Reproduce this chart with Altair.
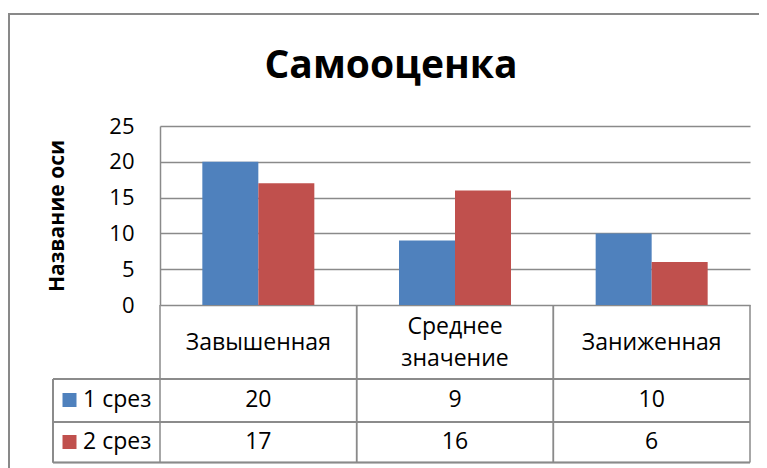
import altair as alt
import pandas as pd

title_text = "Самооценка"
y_title = "Название оси"
categories = ["Завышенная", "Среднее значение", "Заниженная"]
series = ["1 срез", "2 срез"]
values_1 = [20, 9, 10]
values_2 = [17, 16, 6]
y_ticks = [0, 5, 10, 15, 20, 25]
colors = ["#4F81BD", "#C0504D"]

rows = []
for s, vals in zip(series, [values_1, values_2]):
    for c, v in zip(categories, vals):
        rows.append({"category": c, "series": s, "value": v})
df = pd.DataFrame(rows)
cat_df = pd.DataFrame({"category": categories})
ser_df = pd.DataFrame({"series": series})
title_df = pd.DataFrame({"t": [title_text]})

FONT = "Open Sans"
GRID = "#8a8a8a"
W, H = 590, 179
TFS = 23  # table font size

# layout (pixels relative to plot area)
header_y = 217
header_y_two_lines = 201
row_y = [274, 316]
hlines = [253, 296, 336.5]
table_bottom = 336.5
legend_left = -107


def xcat(band_pos=None):
    kw = {}
    if band_pos is not None:
        kw["bandPosition"] = band_pos
    return alt.X("category:N", sort=categories,
                 scale=alt.Scale(paddingInner=0, paddingOuter=0), axis=None, **kw)


color_enc = alt.Color("series:N", sort=series,
                      scale=alt.Scale(domain=series, range=colors), legend=None)

base = alt.Chart(df)

bars = base.mark_bar().encode(
    x=xcat(),
    xOffset=alt.XOffset("series:N", sort=series,
                        scale=alt.Scale(paddingOuter=0.756, paddingInner=0)),
    y=alt.Y("value:Q", scale=alt.Scale(domain=[0, 25]),
            axis=alt.Axis(values=y_ticks, grid=True, gridColor=GRID, gridWidth=1.5,
                          domainColor=GRID, domainWidth=1.5, ticks=False,
                          labelFont=FONT, labelFontSize=22, labelColor="black",
                          labelPadding=26,
                          title=y_title, titleFont=FONT, titleFontSize=21,
                          titleFontWeight="bold", titleColor="black",
                          titlePadding=41)),
    color=color_enc,
)

title_mark = alt.Chart(title_df).mark_text(font=FONT, fontSize=39, fontWeight="bold",
                                           color="black", align="center",
                                           baseline="alphabetic").encode(
    x=alt.value(231), y=alt.value(-48), text="t:N"
)

frame_top = alt.Chart(cat_df).mark_rule(color="#898989", strokeWidth=2).encode(
    x=alt.value(-152), x2=alt.value(W + 40), y=alt.value(-112)
)
frame_left = alt.Chart(cat_df).mark_rule(color="#898989", strokeWidth=2).encode(
    x=alt.value(-151), y=alt.value(-112), y2=alt.value(H + 200)
)

vrules_left = alt.Chart(cat_df).mark_rule(color=GRID, strokeWidth=1.5).encode(
    x=xcat(0), y=alt.value(H), y2=alt.value(table_bottom),
)
vrules_right = alt.Chart(cat_df).mark_rule(color=GRID, strokeWidth=1.5).encode(
    x=xcat(1), y=alt.value(H), y2=alt.value(table_bottom),
)
legend_vrule = alt.Chart(cat_df).mark_rule(color=GRID, strokeWidth=1.5).encode(
    x=alt.value(legend_left), y=alt.value(hlines[0]), y2=alt.value(table_bottom),
)
hrule_layers = [
    alt.Chart(cat_df).mark_rule(color=GRID, strokeWidth=1.5).encode(
        x=alt.value(legend_left), x2=alt.value(W), y=alt.value(hy))
    for hy in hlines
]

header_one = alt.Chart(cat_df).transform_filter(
    "indexof(datum.category, ' ') < 0"
).mark_text(font=FONT, fontSize=TFS, color="black", baseline="middle").encode(
    x=xcat(), y=alt.value(header_y), text="category:N"
)
header_two = alt.Chart(cat_df).transform_filter(
    "indexof(datum.category, ' ') >= 0"
).mark_text(font=FONT, fontSize=TFS, color="black", lineBreak=" ", lineHeight=32,
            baseline="middle").encode(
    x=xcat(), y=alt.value(header_y_two_lines), text="category:N"
)

row_layers = []
for i, s in enumerate(series):
    sub = base.transform_filter(alt.datum.series == s)
    row_layers.append(sub.mark_text(font=FONT, fontSize=TFS, color="black",
                                    baseline="middle").encode(
        x=xcat(), y=alt.value(row_y[i]), text="value:Q"))
    ser = alt.Chart(ser_df).transform_filter(alt.datum.series == s)
    row_layers.append(ser.mark_square(size=196, opacity=1, filled=True).encode(
        x=alt.value(-90.5), y=alt.value(row_y[i]), color=color_enc))
    row_layers.append(ser.mark_text(font=FONT, fontSize=TFS, color="black",
                                    align="left", baseline="middle").encode(
        x=alt.value(-77), y=alt.value(row_y[i]), text="series:N"))

chart = alt.layer(
    frame_top, frame_left, title_mark, bars, vrules_left, vrules_right, legend_vrule,
    *hrule_layers, header_one, header_two, *row_layers
).properties(
    width=W, height=H,
    autosize=alt.AutoSizeParams(type="none"),
    padding={"left": 152, "top": 118, "right": 9, "bottom": 163},
).configure_view(strokeWidth=0)

chart.save("out.html", embed_options={"renderer": "svg", "actions": False})
